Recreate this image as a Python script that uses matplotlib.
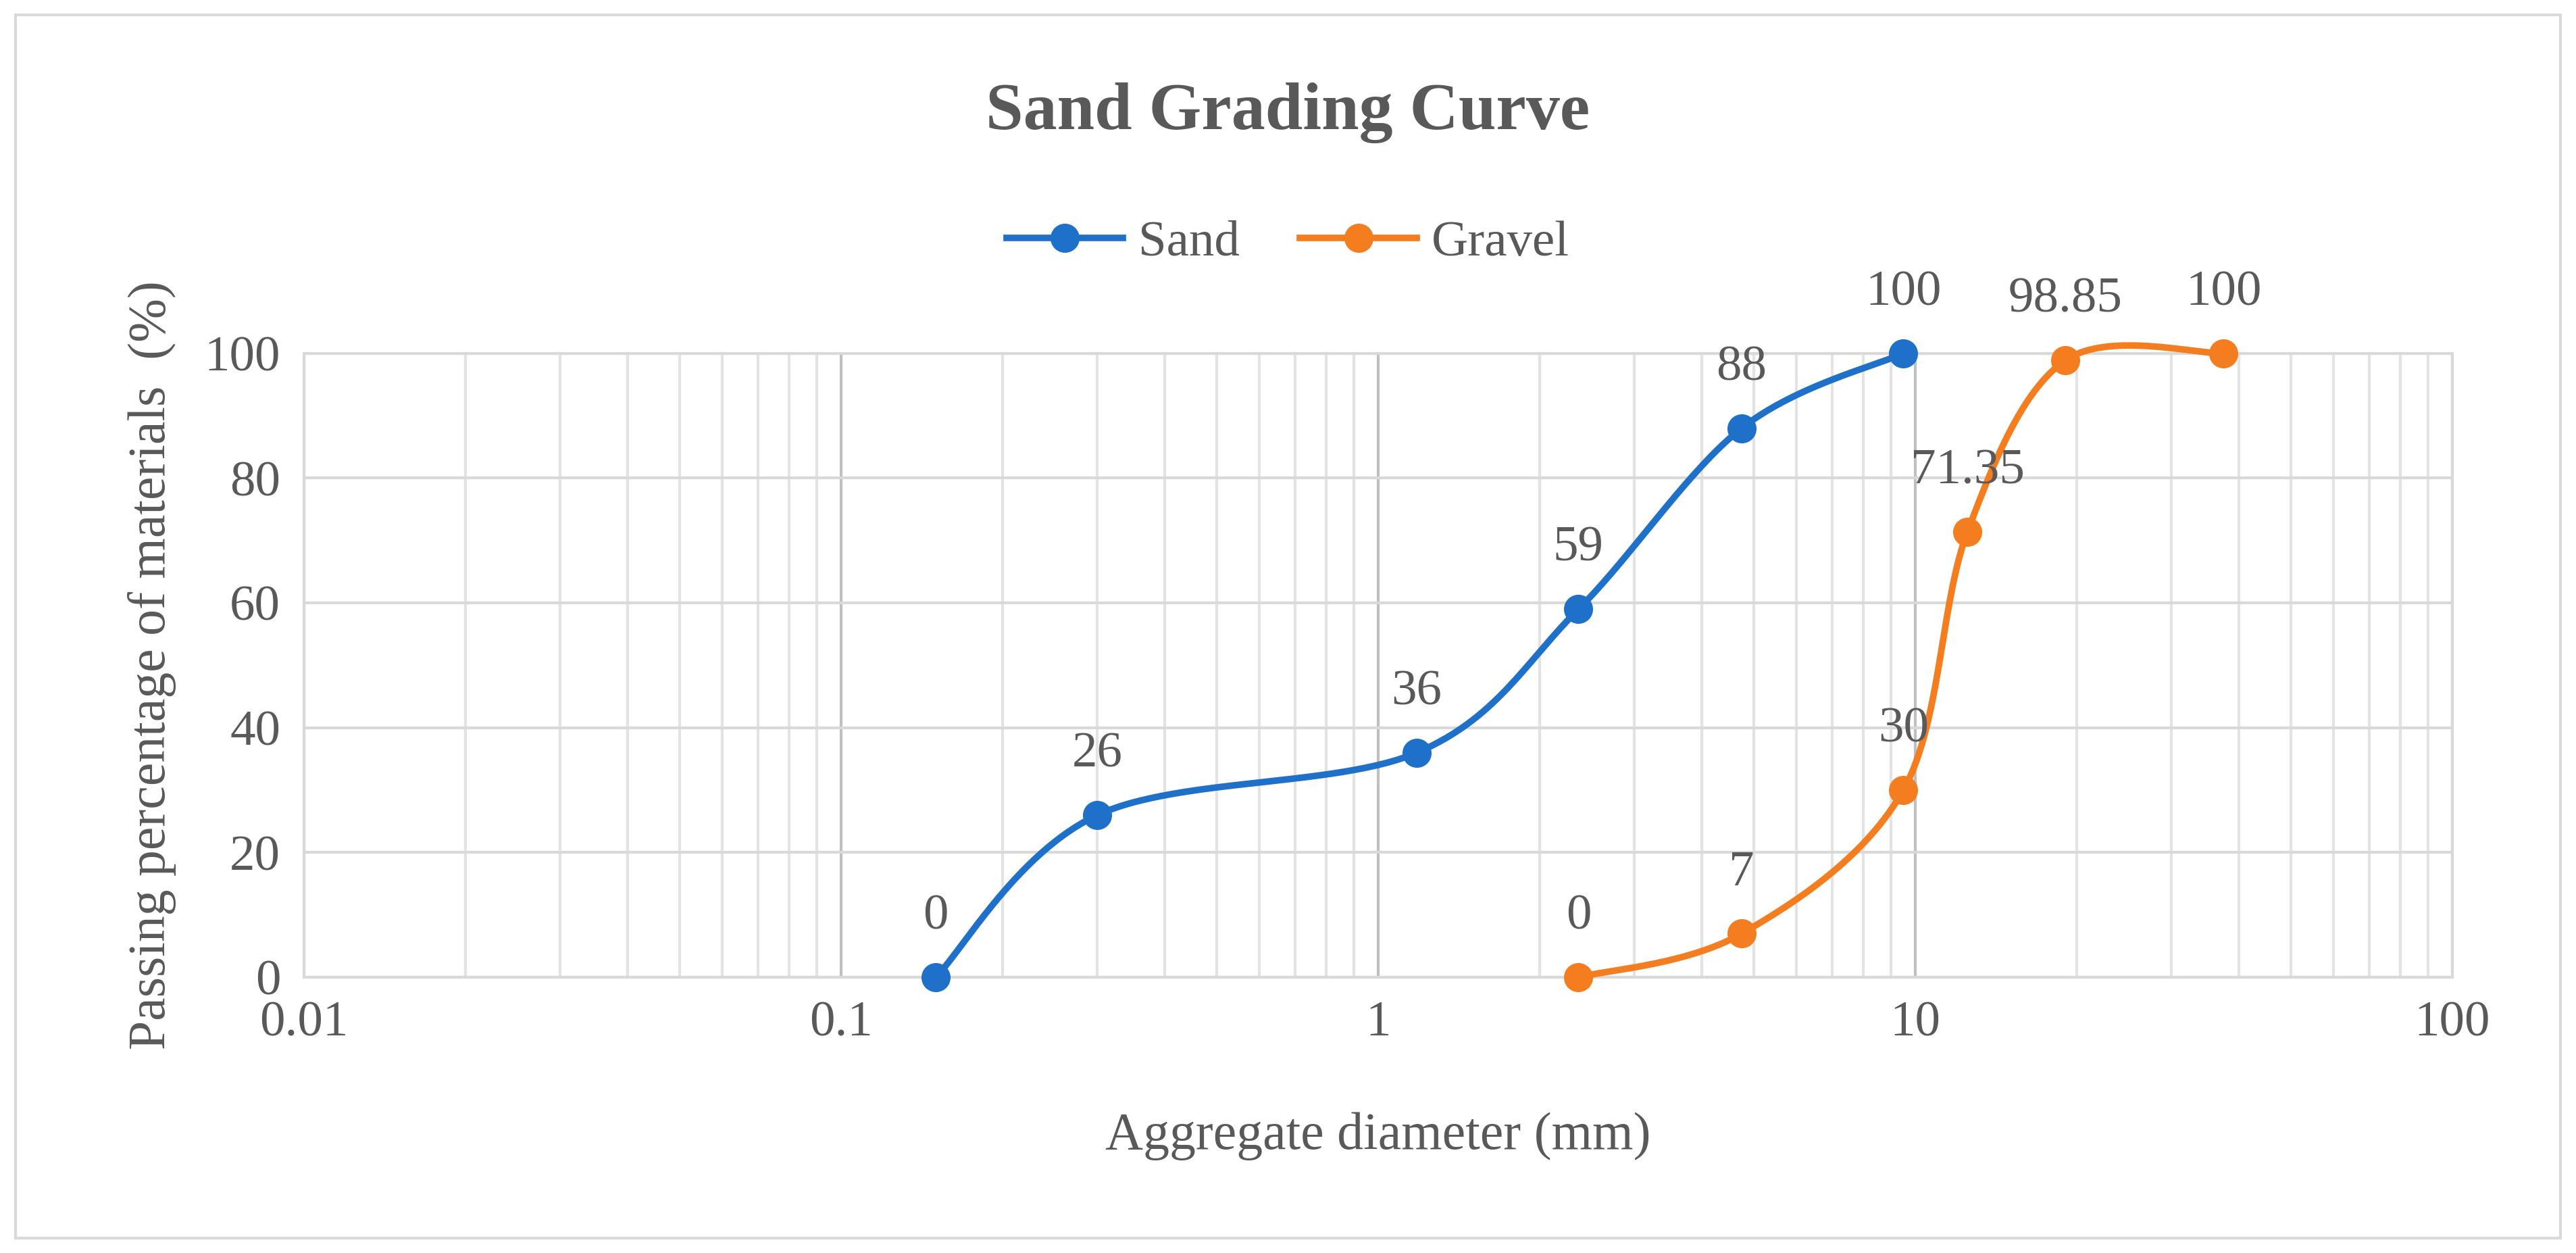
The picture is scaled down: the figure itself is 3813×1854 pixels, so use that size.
import numpy as np
import matplotlib
matplotlib.use("Agg")
import matplotlib.pyplot as plt
from matplotlib.patches import Rectangle

sand_x = [0.15, 0.3, 1.18, 2.36, 4.75, 9.5]
sand_y = [0, 26, 36, 59, 88, 100]
gravel_x = [2.36, 4.75, 9.5, 12.5, 19, 37.5]
gravel_y = [0, 7, 30, 71.35, 98.85, 100]
sand_labels = ["0", "26", "36", "59", "88", "100"]
gravel_labels = ["0", "7", "30", "71.35", "98.85", "100"]
xticks = [0.01, 0.1, 1, 10, 100]
xtick_labels = ["0.01", "0.1", "1", "10", "100"]
yticks = [0, 20, 40, 60, 80, 100]

plt.rcParams['font.family'] = ['Liberation Serif', 'DejaVu Serif']
TXT = '#595959'

def smooth(x, y, n=60, t=0.5):
    lx = np.log10(x); y = np.asarray(y, float)
    P = np.column_stack([lx, y])
    P = np.vstack([P[0], P, P[-1]])
    out = []
    for i in range(1, len(P) - 2):
        p0, p1, p2, p3 = P[i-1], P[i], P[i+1], P[i+2]
        m1 = t * (p2 - p0); m2 = t * (p3 - p1)
        s = np.linspace(0, 1, n)[:, None]
        h00 = 2*s**3 - 3*s**2 + 1; h10 = s**3 - 2*s**2 + s
        h01 = -2*s**3 + 3*s**2; h11 = s**3 - s**2
        out.append(h00*p1 + h10*m1 + h01*p2 + h11*m2)
    out = np.vstack(out)
    return 10**out[:, 0], out[:, 1]

fig = plt.figure(figsize=(38.13, 18.54), dpi=100)
ax = fig.add_axes([0.118, 0.22, 0.834, 0.498])
fig.patches.append(Rectangle((0.006, 0.012), 0.988, 0.976, transform=fig.transFigure,
                             fill=False, edgecolor='#d9d9d9', linewidth=3))

blue = '#1f70c8'; orange = '#f47d20'
for xs, ys, c, lab, labs in [(sand_x, sand_y, blue, 'Sand', sand_labels),
                             (gravel_x, gravel_y, orange, 'Gravel', gravel_labels)]:
    sx, sy = smooth(xs, ys)
    ax.plot(sx, sy, color=c, lw=7, zorder=3, solid_capstyle='round', clip_on=False)
    ax.plot(xs, ys, 'o', color=c, ms=30, zorder=4, clip_on=False)
    ax.plot([], [], '-o', color=c, lw=7, ms=30, label=lab)
    for x, y, t in zip(xs, ys, labs):
        ax.annotate(t, (x, y), xytext=(0, 40), textcoords='offset points',
                    ha='center', va='bottom', fontsize=54, color=TXT, zorder=5)

ax.set_xscale('log')
ax.set_xlim(0.01, 100)
ax.set_ylim(0, 100)
ax.set_xticks(xticks); ax.set_xticklabels(xtick_labels)
ax.set_yticks(yticks)
ax.xaxis.set_minor_locator(matplotlib.ticker.LogLocator(subs=np.arange(2, 10)))
ax.xaxis.set_minor_formatter(matplotlib.ticker.NullFormatter())
ax.grid(True, which='major', axis='x', color='#bfbfbf', lw=3)
ax.grid(True, which='minor', axis='x', color='#e3e3e3', lw=3)
ax.grid(True, which='major', axis='y', color='#d9d9d9', lw=3)
ax.set_axisbelow(True)
for s in ax.spines.values():
    s.set_color('#d9d9d9'); s.set_linewidth(3)
ax.tick_params(which='both', length=0, labelsize=54, labelcolor=TXT, pad=25)
ax.set_xlabel('Aggregate diameter (mm)', fontsize=56, color=TXT, labelpad=70)
ax.set_ylabel('Passing percentage of materials  (%)', fontsize=56, color=TXT, labelpad=30)
fig.text(0.5, 0.91, 'Sand Grading Curve', ha='center', va='center', fontsize=72,
         fontweight='bold', color=TXT)
fig.legend(loc='center', bbox_to_anchor=(0.5, 0.806), ncol=2, frameon=False,
           fontsize=54, labelcolor=TXT, handlelength=2.3, columnspacing=1.2,
           handletextpad=0.3)
fig.savefig('out.png', dpi=100)
